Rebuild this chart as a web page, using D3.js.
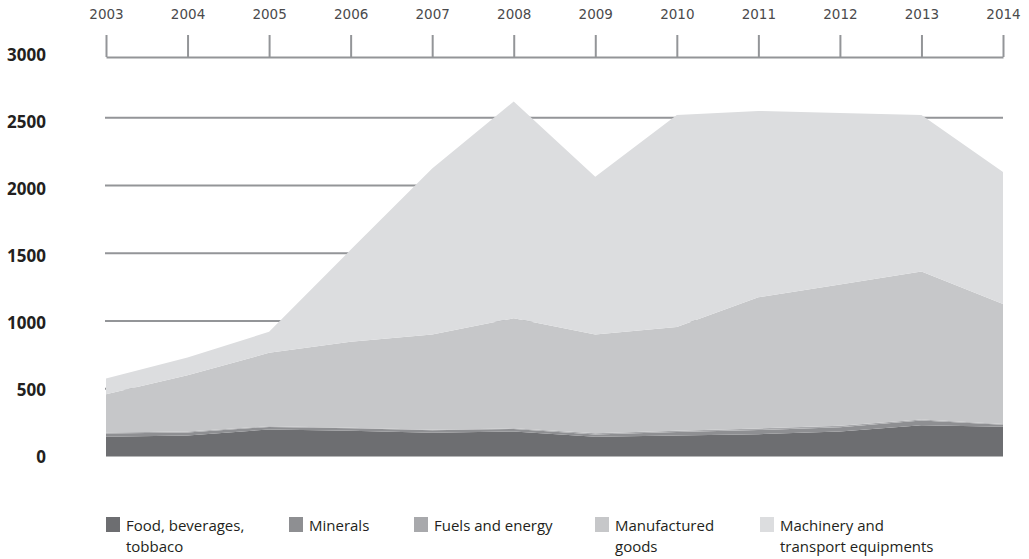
<!DOCTYPE html>
<html>
<head>
<meta charset="utf-8">
<script src="https://cdn.jsdelivr.net/npm/d3@7"></script>
<style>
  body { margin: 0; background: #fff; }
</style>
</head>
<body>
<div id="chart"></div>
<script>
// Data (values per category, stacked)
const years = [2003, 2004, 2005, 2006, 2007, 2008, 2009, 2010, 2011, 2012, 2013, 2014];
const food = [145, 155, 200, 190, 175, 185, 145, 155, 165, 185, 230, 220];
const minerals = [25, 22, 18, 18, 18, 18, 18, 25, 30, 30, 35, 15];
const fuels = [8, 8, 5, 5, 5, 5, 8, 10, 12, 12, 8, 5];
const manufactured = [281, 415, 542, 633, 702, 812, 729, 765, 968, 1043, 1092, 885];
const machinery = [116, 130, 155, 679, 1225, 1600, 1165, 1565, 1375, 1265, 1155, 975];

const seriesNames = ["Food, beverages,\ntobbaco", "Minerals", "Fuels and energy", "Manufactured\ngoods", "Machinery and\ntransport equipments"];
const yTicks = [0, 500, 1000, 1500, 2000, 2500, 3000];

const colors = ["#6d6e71", "#8e8f92", "#a8a9ac", "#c6c7c9", "#dcdddf"];

const W = 1029, H = 559;
const svg = d3.select("#chart").append("svg")
  .attr("width", W)
  .attr("height", H);

const keys = ["food", "minerals", "fuels", "manufactured", "machinery"];
const table = years.map((yr, i) => ({
  year: yr,
  food: food[i],
  minerals: minerals[i],
  fuels: fuels[i],
  manufactured: manufactured[i],
  machinery: machinery[i]
}));

const x = d3.scaleLinear().domain([2003, 2014]).range([106, 1003]);
const y = d3.scaleLinear().domain([0, 3000]).range([456.5, 50]);
// value labels sit slightly lower than their gridlines in the original
const yLabel = d3.scaleLinear().domain([0, 3000]).range([457, 55]);

// gridlines (behind the areas)
svg.append("g")
  .selectAll("line")
  .data(yTicks.filter(d => d > 0 && d < 3000))
  .join("line")
  .attr("x1", 105)
  .attr("x2", 1003)
  .attr("y1", d => y(d))
  .attr("y2", d => y(d))
  .attr("stroke", "#939598")
  .attr("stroke-width", 2);

// stacked areas
const stacked = d3.stack().keys(keys)(table);
const area = d3.area()
  .x(d => x(d.data.year))
  .y0(d => y(d[0]))
  .y1(d => y(d[1]));

svg.append("g")
  .selectAll("path")
  .data(stacked)
  .join("path")
  .attr("d", area)
  .attr("fill", (d, i) => colors[i]);

// top year axis
const topAxis = svg.append("g")
  .attr("transform", "translate(0,57)")
  .call(d3.axisTop(x)
    .tickValues(years)
    .tickFormat(d3.format("d"))
    .tickSize(22)
    .tickSizeOuter(0)
    .tickPadding(16));
topAxis.select(".domain").attr("stroke", "#939598").attr("stroke-width", 2);
topAxis.selectAll(".tick line").attr("stroke", "#939598").attr("stroke-width", 2);
topAxis.selectAll(".tick text")
  .attr("fill", "#4a4a4c")
  .style("font-family", "'DejaVu Sans', sans-serif")
  .style("font-weight", "normal")
  .style("font-size", "13.5px");

// left value labels
svg.append("g")
  .selectAll("text")
  .data(yTicks)
  .join("text")
  .attr("x", 46)
  .attr("y", d => yLabel(d))
  .attr("dy", "0.35em")
  .attr("text-anchor", "end")
  .attr("fill", "#231f20")
  .style("font-family", "'Open Sans', sans-serif")
  .style("font-weight", "bold")
  .style("font-size", "17px")
  .text(d => d);

// legend
const legendX = [106, 289, 414, 595, 760];
const legend = svg.append("g")
  .selectAll("g")
  .data(seriesNames)
  .join("g")
  .attr("transform", (d, i) => `translate(${legendX[i]},517)`);

legend.append("rect")
  .attr("width", 14)
  .attr("height", 15)
  .attr("fill", (d, i) => colors[i]);

legend.append("text")
  .attr("x", 20)
  .attr("y", 14)
  .attr("fill", "#231f20")
  .style("font-family", "'Open Sans', sans-serif")
  .style("font-size", "15px")
  .selectAll("tspan")
  .data(d => d.split("\n"))
  .join("tspan")
  .attr("x", 20)
  .attr("dy", (d, i) => i === 0 ? 0 : 21)
  .text(d => d);
</script>
</body>
</html>
